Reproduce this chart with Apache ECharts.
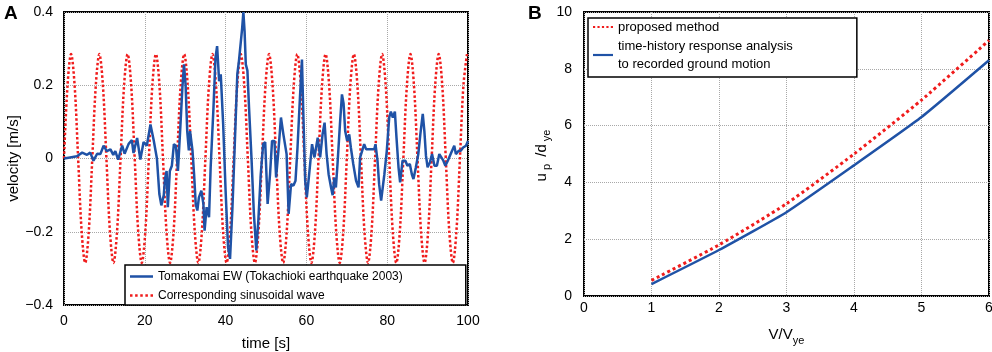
<!DOCTYPE html>
<html>
<head>
<meta charset="utf-8">
<script src="https://cdn.jsdelivr.net/npm/echarts@6/dist/echarts.min.js"></script>
<style>
  html, body { margin: 0; padding: 0; background: #fff; }
  #chart { width: 992px; height: 352px; }
</style>
</head>
<body>
<div id="chart"></div>
<script>
// panel A: recorded velocity (time [s], velocity [m/s])
var recT = [0, 1.5, 3.2, 4.5, 5.7, 6.5, 7.3, 8.2, 9.0, 9.8, 10.6, 11.5, 12.2, 12.7, 13.4, 14.4, 15.0, 16.0, 16.8, 17.2,
  18.1, 18.9, 19.7, 20.5, 21.4, 22.2, 23.0, 23.6, 24.1, 24.7, 25.0, 25.4, 25.7, 26.2, 26.7, 27.2, 27.7, 28.2, 28.7, 29.3,
  29.7, 30.1, 30.5, 30.9, 31.2, 31.8, 32.2, 32.6, 33.0, 33.4, 34.0, 34.5, 34.8, 35.3, 35.9, 36.3, 37.0, 37.5, 37.9, 38.4,
  38.8, 39.4, 40.0, 40.6, 41.1, 41.7, 42.3, 42.9, 43.3, 43.7, 44.1, 44.4, 44.7, 45.0, 45.4, 45.8, 46.4, 47.0, 47.6, 48.1,
  48.7, 49.3, 49.8, 50.4, 51.0, 51.5, 52.1, 52.5, 53.1, 53.7, 54.3, 54.7, 55.1, 55.6, 56.2, 56.8, 57.3, 57.8, 58.4, 58.9,
  59.2, 59.7, 60.1, 60.6, 61.0, 61.4, 62.0, 62.4, 62.8, 63.4, 64.0, 64.5, 65.0, 65.5, 66.1, 66.5, 66.9, 67.3, 67.7, 68.3,
  68.8, 69.2, 69.6, 70.1, 70.6, 71.0, 71.6, 72.3, 72.9, 73.3, 73.8, 74.3, 74.8, 76.8, 77.1, 77.6, 78.0, 78.5, 78.9, 79.3,
  79.9, 80.5, 80.9, 81.4, 81.9, 82.3, 82.8, 83.2, 83.8, 84.5, 85.0, 85.6, 86.1, 86.5, 87.1, 87.7, 88.2, 88.8, 89.2, 89.6,
  90.0, 90.6, 91.1, 91.7, 92.3, 92.9, 93.3, 93.9, 94.4, 95.0, 95.5, 96.0, 96.6, 97.0, 97.7, 98.2, 98.8, 99.5, 100];
var recVel = [0, 0.003, 0.006, 0.016, 0.01, 0.016, -0.006, 0.013, 0.012, 0.035, 0.02, 0.025, 0.01, 0.02, -0.003, 0.035, 0.013, 0.04, 0.05, 0.015,
  0.056, -0.003, 0.045, 0.035, 0.093, 0.05, 0, -0.097, -0.128, -0.1, -0.055, -0.034, -0.133, -0.034, -0.02, 0.039, 0.035, -0.034, 0.066, 0.193,
  0.257, 0.2, 0.075, 0.022, 0.075, 0.022, -0.043, -0.124, -0.142, -0.106, -0.088, -0.124, -0.197, -0.133, -0.16, -0.024, 0.139, 0.275, 0.307, 0.211,
  0.23, 0.093, -0.088, -0.242, -0.274, -0.133, 0.048, 0.23, 0.266, 0.262, 0.356, 0.4, 0.347, 0.257, 0.24, 0.139, 0.003, -0.151, -0.251, -0.17,
  -0.043, 0.039, 0.045, -0.124, -0.043, 0.048, 0.048, -0.052, 0.025, 0.112, 0.066, 0.068, 0.012, -0.151, -0.07, -0.074, -0.061, 0.03, 0.166, 0.27,
  0.139, -0.061, -0.106, -0.052, -0.052, 0.039, 0.003, 0.03, 0.057, 0.003, 0.066, 0.098, 0.012, -0.043, -0.079, -0.1, -0.052, -0.079, -0.015, 0.093,
  0.175, 0.15, 0.075, 0.048, 0.066, 0.03, -0.015, -0.061, -0.079, 0.003, 0.021, 0.039, 0.025, 0.025, 0.039, -0.006, -0.07, -0.115, -0.079, -0.043,
  0.021, 0.112, 0.128, 0.112, 0.128, 0.057, -0.024, -0.065, -0.006, -0.006, -0.02, -0.015, -0.043, -0.056, -0.024, 0.012, 0.066, 0.122, 0.075, 0.007,
  -0.024, -0.01, 0.012, -0.02, -0.02, 0.012, 0.015, -0.006, -0.02, -0.006, 0.007, 0.02, 0.035, 0.012, 0.021, 0.021, 0.03, 0.035, 0.048];

// panel A: sinusoidal wave, one value every 0.875 s (8 per 7 s cycle)
var sineStep = 0.875;
var sineVel = [
  0, 0.2, 0.285, 0.2, 0, -0.2, -0.285, -0.2,
  0, 0.2, 0.285, 0.2, 0, -0.2, -0.285, -0.2,
  0, 0.2, 0.285, 0.2, 0, -0.2, -0.285, -0.2,
  0, 0.2, 0.285, 0.2, 0, -0.2, -0.285, -0.2,
  0, 0.2, 0.285, 0.2, 0, -0.2, -0.285, -0.2,
  0, 0.2, 0.285, 0.2, 0, -0.2, -0.285, -0.2,
  0, 0.2, 0.285, 0.2, 0, -0.2, -0.285, -0.2,
  0, 0.2, 0.285, 0.2, 0, -0.2, -0.285, -0.2,
  0, 0.2, 0.285, 0.2, 0, -0.2, -0.285, -0.2,
  0, 0.2, 0.285, 0.2, 0, -0.2, -0.285, -0.2,
  0, 0.2, 0.285, 0.2, 0, -0.2, -0.285, -0.2,
  0, 0.2, 0.285, 0.2, 0, -0.2, -0.285, -0.2,
  0, 0.2, 0.285, 0.2, 0, -0.2, -0.285, -0.2,
  0, 0.2, 0.285, 0.2, 0, -0.2, -0.285, -0.2,
  0, 0.2, 0.285
];

// panel B: V/Vye against up/dye
var ratioV = [1, 2, 3, 4, 5, 6];
var proposed = [0.55, 1.8, 3.25, 5.0, 6.9, 9.0];
var timeHistory = [0.42, 1.62, 2.95, 4.6, 6.3, 8.3];

var recName = 'Tomakomai EW (Tokachioki earthquake 2003)';
var sineName = 'Corresponding sinusoidal wave';
var propName = 'proposed method';
var thName = 'time-history response analysis\nto recorded ground motion';

var BLUE = '#1f52a6';
var RED = '#f01c1c';
var FONT = '"Liberation Sans", Arial, sans-serif';

// legend icons: solid bar and a row of dots
var ICON_SOLID = 'path://M0,0h22v2.4h-22z';
var ICON_DOTS = 'path://M0,0h2.4v2.4h-2.4z M4.9,0h2.4v2.4h-2.4z M9.8,0h2.4v2.4h-2.4z M14.7,0h2.4v2.4h-2.4z M19.6,0h2.4v2.4h-2.4z';

function zip(xs, ys) {
  return ys.map(function (y, i) { return [xs[i], y]; });
}
var recData = zip(recT, recVel);
var sineData = sineVel.map(function (v, i) { return [i * sineStep, v]; });
var propData = zip(ratioV, proposed);
var thData = zip(ratioV, timeHistory);

var splitStyle = { show: true, lineStyle: { color: '#a8a8a8', type: [1, 1], width: 1 } };
var lbl = { color: '#000', fontSize: 14, fontFamily: FONT };

var option = {
  animation: false,
  backgroundColor: '#fff',
  textStyle: { fontFamily: FONT },
  graphic: [
    { type: 'text', left: 4, top: 4, style: { text: 'A', font: 'bold 19px ' + FONT, fill: '#000' } },
    { type: 'text', left: 528, top: 4, style: { text: 'B', font: 'bold 19px ' + FONT, fill: '#000' } }
  ],
  grid: [
    { left: 64, top: 12, width: 404, height: 293, outerBoundsMode: 'none', containLabel: false,
      show: true, borderColor: '#000', borderWidth: 2, backgroundColor: 'transparent' },
    { left: 584, top: 12, width: 405, height: 284, outerBoundsMode: 'none', containLabel: false,
      show: true, borderColor: '#000', borderWidth: 2, backgroundColor: 'transparent' }
  ],
  xAxis: [
    {
      gridIndex: 0, type: 'value', min: 0, max: 100, interval: 20,
      axisLine: { show: false }, axisTick: { show: false },
      axisLabel: Object.assign({ margin: 9 }, lbl),
      splitLine: splitStyle,
      name: 'time [s]', nameLocation: 'middle', nameGap: 31,
      nameTextStyle: { color: '#000', fontSize: 15, fontFamily: FONT }
    },
    {
      gridIndex: 1, type: 'value', min: 0, max: 6, interval: 1,
      axisLine: { show: false }, axisTick: { show: false },
      axisLabel: Object.assign({ margin: 5 }, lbl),
      splitLine: splitStyle,
      name: '{a|V/V}{s|ye}', nameLocation: 'middle', nameGap: 28,
      nameTextStyle: {
        color: '#000', fontFamily: FONT,
        rich: {
          a: { fontSize: 15, lineHeight: 22, verticalAlign: 'middle', color: '#000', fontFamily: FONT },
          s: { fontSize: 11, lineHeight: 10, verticalAlign: 'bottom', color: '#000', fontFamily: FONT }
        }
      }
    }
  ],
  yAxis: [
    {
      gridIndex: 0, type: 'value', min: -0.4, max: 0.4, interval: 0.2,
      axisLine: { show: false }, axisTick: { show: false },
      axisLabel: Object.assign({ margin: 11, formatter: function (v) {
        var s = Math.abs(v) < 1e-9 ? '0' : String(Math.round(v * 10) / 10);
        return s.replace('-', '\u2212');
      } }, lbl),
      splitLine: splitStyle,
      name: 'velocity [m/s]', nameLocation: 'middle', nameGap: 34,
      nameTextStyle: { color: '#000', fontSize: 15, fontFamily: FONT }
    },
    {
      gridIndex: 1, type: 'value', min: 0, max: 10, interval: 2,
      axisLine: { show: false }, axisTick: { show: false },
      axisLabel: Object.assign({ margin: 12 }, lbl),
      splitLine: splitStyle,
      name: '{a|u}{s|p}{a| /d}{s|ye}', nameLocation: 'middle', nameGap: 27,
      nameTextStyle: {
        color: '#000', fontFamily: FONT,
        rich: {
          a: { fontSize: 15, lineHeight: 22, verticalAlign: 'middle', color: '#000', fontFamily: FONT },
          s: { fontSize: 11, lineHeight: 10, verticalAlign: 'bottom', color: '#000', fontFamily: FONT, padding: [0, 3, 0, 3] }
        }
      }
    }
  ],
  legend: [
    {
      data: [{ name: recName, icon: ICON_SOLID }, { name: sineName, icon: ICON_DOTS }],
      orient: 'vertical', left: 125, top: 265,
      backgroundColor: '#fff', borderColor: '#000', borderWidth: 1.5, borderRadius: 0,
      padding: [5, 63, 3, 5], itemGap: 6, itemWidth: 23, itemHeight: 2.6,
      textStyle: { fontSize: 12, color: '#000', fontFamily: FONT, lineHeight: 13 },
      selectedMode: false
    },
    {
      data: [{ name: propName, icon: ICON_DOTS }, { name: thName, icon: ICON_SOLID }],
      orient: 'vertical', left: 588, top: 18,
      backgroundColor: '#fff', borderColor: '#000', borderWidth: 1.5, borderRadius: 0,
      padding: [0, 64, 4, 5], itemGap: 1, itemWidth: 20, itemHeight: 2.8,
      textStyle: { fontSize: 13, color: '#000', fontFamily: FONT, lineHeight: 18 },
      selectedMode: false
    }
  ],
  series: [
    {
      name: recName, type: 'line', xAxisIndex: 0, yAxisIndex: 0, data: recData,
      showSymbol: false, symbol: 'none', z: 3,
      lineStyle: { color: BLUE, width: 2.5 }, itemStyle: { color: BLUE }
    },
    {
      name: sineName, type: 'line', xAxisIndex: 0, yAxisIndex: 0, data: sineData,
      showSymbol: false, symbol: 'none', smooth: 0.35, z: 2,
      lineStyle: { color: RED, width: 2.5, type: [2.5, 2.2] }, itemStyle: { color: RED }
    },
    {
      name: propName, type: 'line', xAxisIndex: 1, yAxisIndex: 1, data: propData,
      showSymbol: false, symbol: 'none', smooth: 0.2, z: 3,
      lineStyle: { color: RED, width: 3, type: [3, 3] }, itemStyle: { color: RED }
    },
    {
      name: thName, type: 'line', xAxisIndex: 1, yAxisIndex: 1, data: thData,
      showSymbol: false, symbol: 'none', smooth: 0.15, z: 2,
      lineStyle: { color: BLUE, width: 2.5 }, itemStyle: { color: BLUE }
    }
  ]
};

var myChart = echarts.init(document.getElementById('chart'));
myChart.setOption(option);
</script>
</body>
</html>
